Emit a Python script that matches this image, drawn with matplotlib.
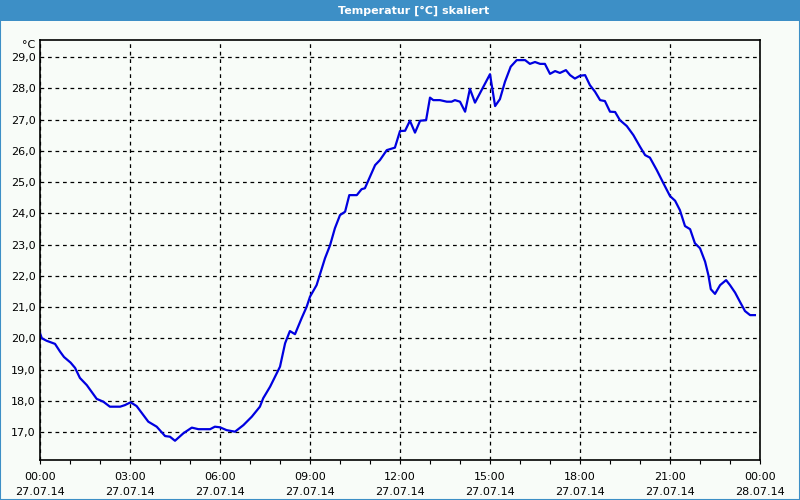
import pandas as pd
import matplotlib.pyplot as plt
import matplotlib.dates as mdates
from matplotlib.patches import Rectangle
from matplotlib.transforms import blended_transform_factory

# hours after midnight on 27.07.14 and the measured temperature (°C)
hours = [0.0, 0.06, 0.22, 0.5, 0.67, 0.8, 1.02, 1.17, 1.33, 1.56, 1.89,
         2.11, 2.33, 2.67, 2.83, 3.02, 3.22, 3.61, 3.89, 4.17, 4.33, 4.5,
         4.78, 5.06, 5.28, 5.67, 5.83, 6.0, 6.22, 6.5, 6.78, 7.06, 7.33,
         7.44, 7.67, 8.0, 8.17, 8.33, 8.5, 8.72, 8.89, 9.0, 9.22, 9.5,
         9.67, 9.83, 10.0, 10.17, 10.31, 10.56, 10.72, 10.83, 11.17, 11.33,
         11.56, 11.83, 12.0, 12.17, 12.33, 12.5, 12.67, 12.87, 13.0, 13.11,
         13.33, 13.56, 13.72, 13.83, 14.0, 14.17, 14.33, 14.5, 14.78, 15.0,
         15.17, 15.33, 15.5, 15.69, 15.89, 16.17, 16.33, 16.5, 16.67, 16.83,
         17.0, 17.17, 17.33, 17.53, 17.67, 17.83, 18.0, 18.17, 18.33, 18.5,
         18.67, 18.83, 19.0, 19.17, 19.33, 19.56, 19.78, 20.0, 20.17, 20.33,
         20.56, 20.78, 21.0, 21.17, 21.33, 21.5, 21.67, 21.83, 22.0, 22.17,
         22.28, 22.36, 22.5, 22.67, 22.87, 23.0, 23.17, 23.33, 23.5, 23.67,
         23.83]
temps = [20.17, 20.0, 19.92, 19.82, 19.57, 19.4, 19.22, 19.05, 18.73, 18.5,
         18.06, 17.97, 17.81, 17.81, 17.86, 17.95, 17.83, 17.33, 17.17,
         16.87, 16.85, 16.72, 16.96, 17.14, 17.09, 17.09, 17.17, 17.15,
         17.06, 17.01, 17.22, 17.49, 17.81, 18.08, 18.45, 19.09, 19.84,
         20.23, 20.13, 20.64, 21.01, 21.33, 21.7, 22.56, 22.98, 23.52,
         23.94, 24.05, 24.58, 24.58, 24.77, 24.8, 25.54, 25.7, 26.02, 26.1,
         26.63, 26.64, 26.96, 26.58, 26.96, 26.98, 27.7, 27.62, 27.62, 27.57,
         27.57, 27.62, 27.57, 27.25, 27.98, 27.54, 28.05, 28.45, 27.43,
         27.65, 28.21, 28.69, 28.9, 28.9, 28.78, 28.84, 28.78, 28.78, 28.46,
         28.55, 28.49, 28.58, 28.42, 28.31, 28.4, 28.42, 28.1, 27.89, 27.62,
         27.59, 27.25, 27.24, 26.98, 26.79, 26.5, 26.13, 25.86, 25.78, 25.38,
         24.96, 24.55, 24.4, 24.1, 23.59, 23.49, 23.04, 22.88, 22.45, 22.02,
         21.57, 21.42, 21.7, 21.86, 21.7, 21.46, 21.17, 20.87, 20.74, 20.74]
y_ticks = [17, 18, 19, 20, 21, 22, 23, 24, 25, 26, 27, 28, 29]
title = 'Temperatur [°C] skaliert'

start = pd.Timestamp('2014-07-27')
times = start + pd.to_timedelta(hours, unit='h')

bg = '#f8fcf8'
bar = '#3d8fc6'

fig = plt.figure(figsize=(8, 5), dpi=100, facecolor=bg)
plt.rcParams['font.family'] = ['DejaVu Sans']

# title bar and thin outer border
fig.patches.append(Rectangle((0, 0.958), 1, 0.042, transform=fig.transFigure,
                             facecolor=bar, edgecolor='none', zorder=0))
fig.patches.append(Rectangle((0, 0), 1, 1, transform=fig.transFigure,
                             facecolor='none', edgecolor=bar, lw=1.5))
fig.text(0.5175, 0.979, title, color='white', fontsize=8, fontweight='bold',
         ha='center', va='center')

ax = fig.add_axes([0.05, 0.08, 0.9, 0.84], facecolor=bg)
ax.plot(times, temps, color='#0000e0', lw=1.6)

ax.set_xlim(start, start + pd.Timedelta(hours=24))
ax.set_ylim(16.104, 29.544)
ax.set_yticks(y_ticks)
ax.set_yticklabels(['%d,0' % t for t in y_ticks])

ax.xaxis.set_major_locator(mdates.HourLocator(interval=3))
ax.xaxis.set_minor_locator(mdates.HourLocator(interval=1))
ax.xaxis.set_major_formatter(mdates.DateFormatter('%H:%M\n%d.%m.%y'))

ax.grid(True, which='major', color='black', linestyle=(0, (3, 3)), lw=0.9)
ax.tick_params(axis='x', which='both', length=3, width=0.8, labelsize=8,
               pad=6, colors='black')
ax.tick_params(axis='y', length=0, labelsize=8, pad=3)
for lbl in ax.get_xticklabels():
    lbl.set_linespacing(1.6)
for sp in ax.spines.values():
    sp.set_linewidth(1.2)

trans = blended_transform_factory(ax.transAxes, ax.transData)
ax.text(-0.006, 29.38, '°C', transform=trans, ha='right', va='center',
        fontsize=8)

fig.savefig('out.png', dpi=100, facecolor=bg)
